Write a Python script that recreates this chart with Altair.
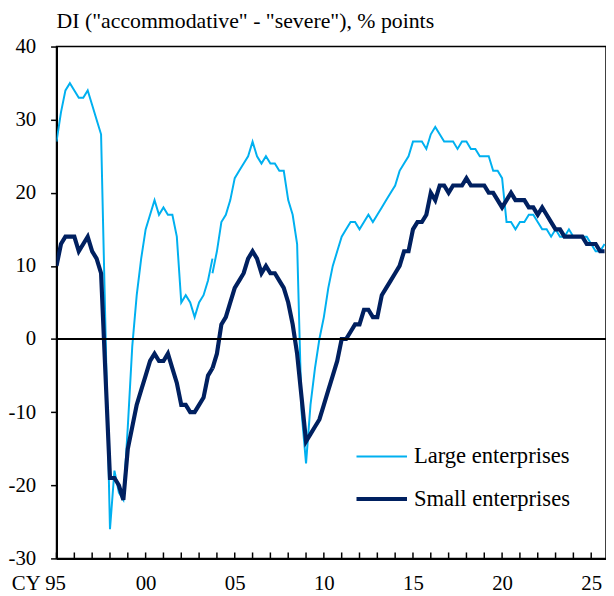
import altair as alt
import pandas as pd

# ---------------- data (quarterly, CY1995 Q1 onward) ----------------
start_year = 1995
break_index = 35  # 2003 Q4: series basis change (old and new basis both shown)

large_old = [27, 31, 34, 35, 34, 33, 33, 34, 32, 30, 28, 1, -26, -18, -21, -22,
             -12, -1, 6, 11, 15, 17, 19, 17, 18, 17, 17, 14, 5, 6, 5, 3,
             5, 6, 8, 11]
large_new = [9, 12, 16, 17, 19, 22, 23, 24, 25, 27, 25, 24, 25, 24, 24, 23,
             23, 19, 17, 13, -10, -17, -9, -4, 0, 3, 7, 10, 12, 14, 15, 16,
             16, 15, 16, 17, 16, 17, 18, 19, 20, 21, 23, 24, 25, 27, 27, 27,
             26, 28, 29, 28, 27, 27, 27, 26, 27, 27, 26, 26, 25, 25, 25, 23,
             23, 22, 16, 16, 15, 16, 16, 17, 17, 16, 15, 15, 14, 15, 14, 14,
             15, 14, 14, 14, 14, 13, 12, 12, 13]
small_old = [10, 13, 14, 14, 14, 12, 13, 14, 12, 11, 9, -5, -19, -19, -20, -22,
             -15, -12, -9, -7, -5, -3, -2, -3, -3, -2, -4, -6, -9, -9, -10, -10,
             -9, -8, -5, -4]
small_new = [-4, -2, 2, 3, 5, 7, 8, 9, 11, 12, 11, 9, 10, 9, 9, 8,
             7, 5, 2, -2, -8, -14, -13, -12, -11, -9, -7, -5, -3, 0, 0, 1,
             2, 2, 4, 4, 3, 3, 6, 7, 8, 9, 10, 12, 12, 15, 16, 16,
             17, 20, 19, 21, 21, 20, 21, 21, 21, 22, 21, 21, 21, 21, 20, 20,
             19, 18, 19, 20, 19, 19, 19, 18, 18, 17, 18, 17, 16, 15, 15, 14,
             14, 14, 14, 14, 13, 13, 13, 12, 12]

series_names = ["Large enterprises", "Small enterprises"]
series_colors = ["#00B0F0", "#002060"]
series_widths = [2, 4.2]

y_ticks = [-30, -20, -10, 0, 10, 20, 30, 40]
year_ticks = list(range(1995, 2026))
label_years = [1995, 2000, 2005, 2010, 2015, 2020, 2025]
zero_line = [0]
title_text = 'DI ("accommodative" - "severe"), % points'

# ---------------- table ----------------
rows = []
for name, old, new in [(series_names[0], large_old, large_new),
                       (series_names[1], small_old, small_new)]:
    for k, v in enumerate(old):
        rows.append({"t": start_year + k / 4, "value": v, "series": name, "seg": name + " old"})
    for k, v in enumerate(new):
        rows.append({"t": start_year + (break_index + k) / 4, "value": v, "series": name, "seg": name + " new"})
df = pd.DataFrame(rows)

W, H = 555, 517
FONT = "Liberation Serif"
FS = 21

x_scale = alt.Scale(domain=[1995, 2025.83], nice=False, zero=False)
y_scale = alt.Scale(domain=[-30, 40], nice=False)

x_axis = alt.Axis(
    values=label_years, ticks=False, grid=False, title=None,
    domainColor="black", domainWidth=2,
    labelExpr="datum.value == 1995 ? 'CY 95' : substring(toString(datum.value), 2, 4)",
    labelAlign=alt.ConditionalAxisLabelAlign(
        condition={"test": "datum.value == 1995", "value": "right"}, value="center"),
    labelOffset=alt.ConditionalAxisNumber(
        condition={"test": "datum.value == 1995", "value": 9}, value=0),
    labelFlush=False, labelOverlap=False, labelBound=False,
    labelFont=FONT, labelFontSize=FS, labelColor="black", labelPadding=14,
)
y_axis = alt.Axis(
    values=y_ticks, grid=False, title=None,
    domainColor="black", domainWidth=2,
    tickColor="black", tickWidth=1.5, tickSize=6,
    labelExpr="toString(datum.value)",
    labelFont=FONT, labelFontSize=FS, labelColor="black", labelPadding=15,
)

lines = alt.Chart(df).mark_line(strokeJoin="miter", clip=True).encode(
    x=alt.X("t:Q", scale=x_scale, axis=x_axis),
    y=alt.Y("value:Q", scale=y_scale, axis=y_axis),
    color=alt.Color("series:N", scale=alt.Scale(domain=series_names, range=series_colors), legend=None),
    strokeWidth=alt.StrokeWidth("series:N", scale=alt.Scale(domain=series_names, range=series_widths), legend=None),
    detail="seg:N",
    order="t:Q",
)

zero = alt.Chart(pd.DataFrame({"z": zero_line})).mark_rule(color="black", strokeWidth=2).encode(
    y=alt.Y("z:Q", scale=y_scale, axis=y_axis)
)

ticks = alt.Chart(pd.DataFrame({"yr": year_ticks})).mark_rule(color="black", strokeWidth=1.5).encode(
    x=alt.X("yr:Q", scale=x_scale, axis=x_axis),
    y=alt.value(H), y2=alt.value(H - 6),
)

legend_layers = []
legend_rows_y = [414, 457]
for name, col, w, yy in zip(series_names, series_colors, series_widths, legend_rows_y):
    legend_layers.append(
        alt.Chart(pd.DataFrame({"s": [name]})).mark_rule(color=col, strokeWidth=w).encode(
            x=alt.value(303), x2=alt.value(354), y=alt.value(yy))
    )
    legend_layers.append(
        alt.Chart(pd.DataFrame({"s": [name]})).mark_text(
            align="left", baseline="middle", font=FONT, fontSize=22.8, color="black").encode(
            x=alt.value(361), y=alt.value(yy), text="s:N")
    )

chart = alt.layer(lines, zero, ticks, *legend_layers).properties(
    width=W, height=H,
    title=alt.TitleParams(title_text, anchor="start", frame="group", font=FONT,
                          fontSize=22, fontWeight="normal", color="black", offset=3),
    autosize=alt.AutoSizeParams(type="none"),
    padding={"left": 49, "top": 36, "right": 0, "bottom": 32},
).configure_view(stroke="black", strokeWidth=1.5
).configure_axis(labelFont=FONT, labelFontSize=FS, labelColor="black"
).configure_title(font=FONT, fontSize=22, fontWeight="normal", color="black")

chart.save("out.html", embed_options={"renderer": "svg", "actions": False})
